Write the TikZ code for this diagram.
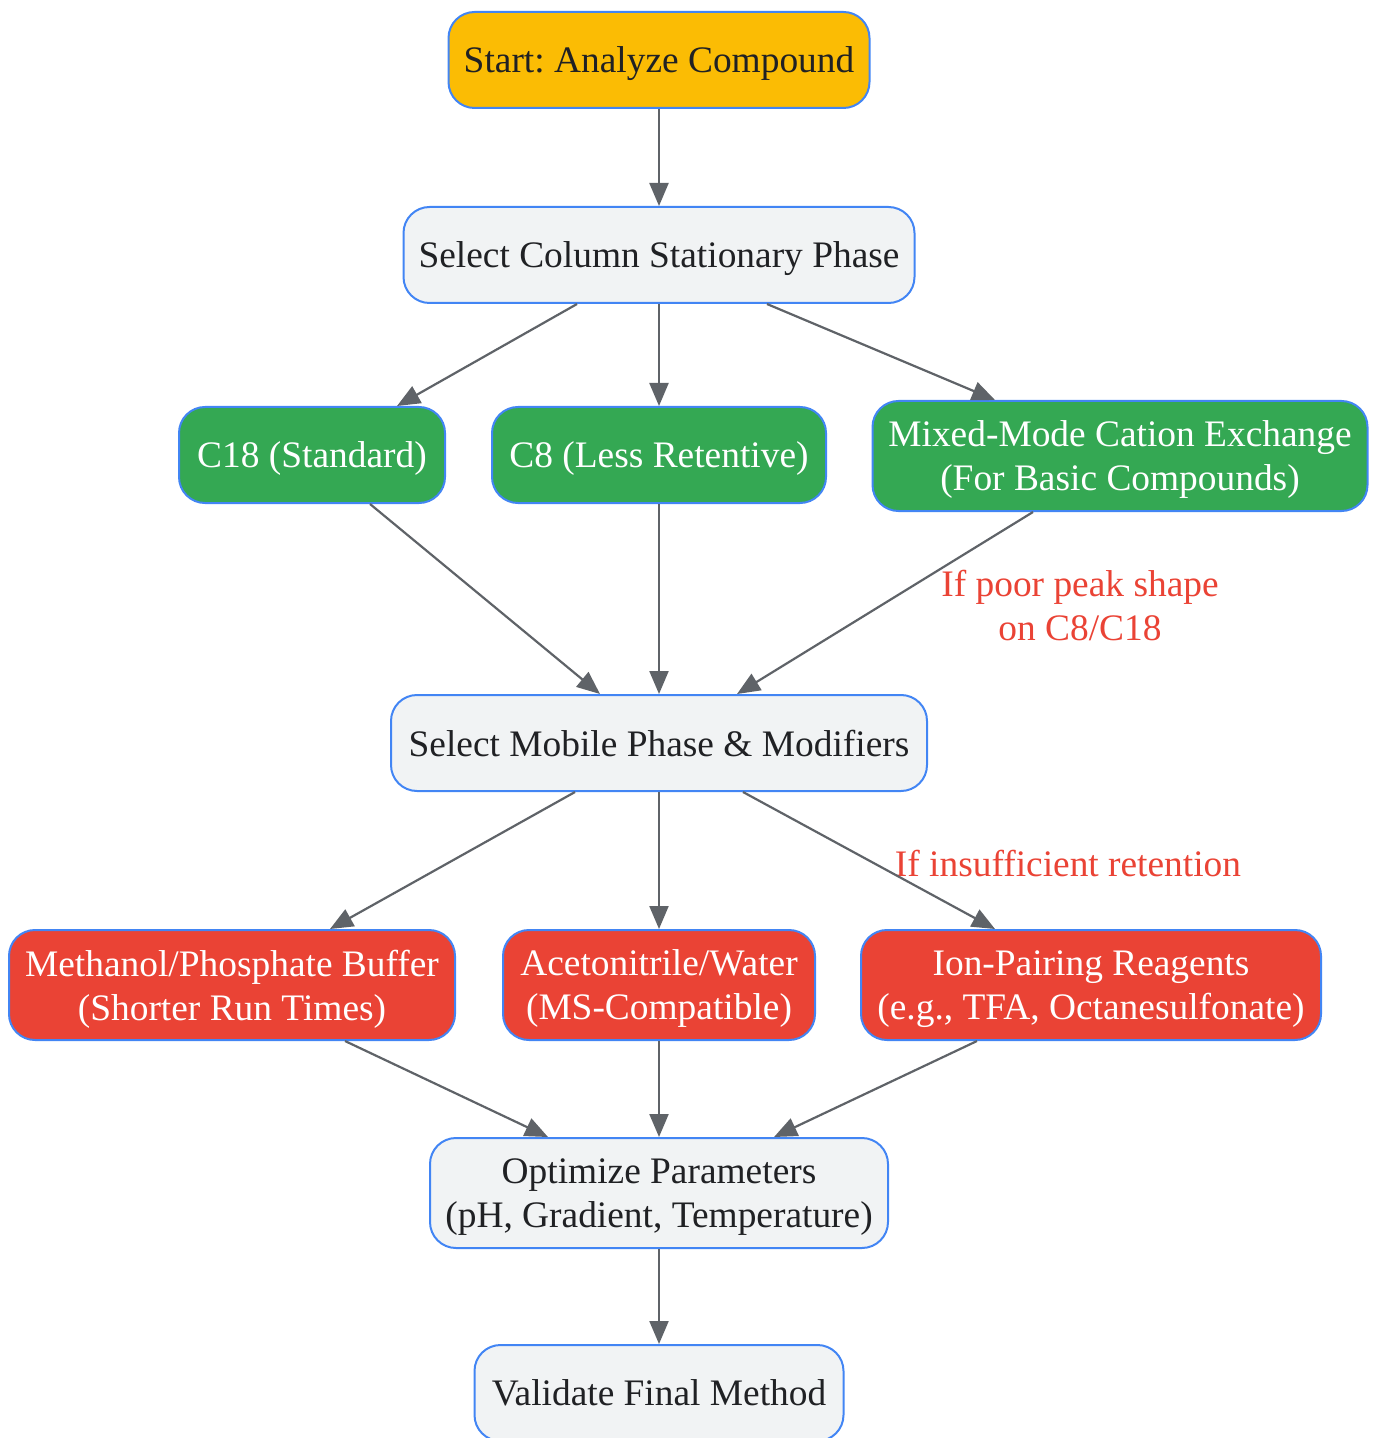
\documentclass[tikz,border=0pt]{standalone}
\usepackage{fontspec}
\setmainfont{Liberation Serif}
\frenchspacing
\usepackage{tikz}
\usetikzlibrary{arrows.meta}
\definecolor{gyellow}{HTML}{FBBC04}
\definecolor{ggreen}{HTML}{34A853}
\definecolor{gred}{HTML}{EA4335}
\definecolor{ggray}{HTML}{F1F3F4}
\definecolor{gblue}{HTML}{4285F4}
\definecolor{gtext}{HTML}{202124}
\definecolor{gline}{HTML}{5F6368}
\tikzset{
  box/.style={draw=gblue,line width=1pt,rounded corners=13pt,fill=ggray,text=gtext,
    align=center,inner sep=0pt,minimum height=48pt,text depth=0pt,font=\fontsize{18.7}{22}\selectfont},
  twoline/.style={minimum height=55pt},
  startbox/.style={box,fill=gyellow},
  colbox/.style={box,fill=ggreen,text=white},
  mobbox/.style={box,fill=gred,text=white},
  flow/.style={draw=gline,line width=1.1pt,-{Triangle[length=11.5pt,width=9.5pt]}},
  note/.style={text=gred,align=center,font=\fontsize{18.7}{22}\selectfont}
}
\begin{document}
\begin{tikzpicture}[x=0.5pt,y=-0.5pt]
  \useasboundingbox (0,0) rectangle (1372,1438);
  % steps
  \node[startbox,minimum width=210.5pt] (start) at (659,60) {Start: Analyze Compound};
  \node[box,minimum width=255.5pt] (sel) at (659,255) {Select Column Stationary Phase};
  \node[colbox,minimum width=133pt] (c18) at (312,455) {C18 (Standard)};
  \node[colbox,minimum width=167pt] (c8) at (659,455) {C8 (Less Retentive)};
  \node[colbox,twoline,minimum width=247.5pt] (mix) at (1120,456) {Mixed-Mode Cation Exchange\\(For Basic Compounds)};
  \node[box,minimum width=268pt] (mob) at (659,743) {Select Mobile Phase \& Modifiers};
  \node[mobbox,twoline,minimum width=223pt] (meth) at (232,985) {Methanol/Phosphate Buffer\\(Shorter Run Times)};
  \node[mobbox,twoline,minimum width=156pt] (acn) at (659,985) {Acetonitrile/Water\\(MS-Compatible)};
  \node[mobbox,twoline,minimum width=230pt] (ion) at (1091,985) {Ion-Pairing Reagents\\(e.g., TFA, Octanesulfonate)};
  \node[box,twoline,minimum width=229pt] (opt) at (659,1193) {Optimize Parameters\\(pH, Gradient, Temperature)};
  \node[box,minimum width=184.5pt] (val) at (659,1393) {Validate Final Method};
  % notes
  \node[note] (poor) at (1080,606) {If poor peak shape\\on C8/C18};
  \node[note] (ret) at (1068,864) {If insufficient retention};
  % connectors
  \draw[flow] (start.south) -- (sel.north);
  \draw[flow] ([xshift=-41pt]sel.south) -- ([xshift=42.5pt]c18.north);
  \draw[flow] (sel.south) -- (c8.north);
  \draw[flow] ([xshift=54pt]sel.south) -- ([xshift=-62.5pt]mix.north);
  \draw[flow] ([xshift=29pt]c18.south) -- ([xshift=-29.5pt]mob.north);
  \draw[flow] (c8.south) -- (mob.north);
  \draw[flow] ([xshift=-43.5pt]mix.south) -- ([xshift=39pt]mob.north);
  \draw[flow] ([xshift=-42pt]mob.south) -- ([xshift=49pt]meth.north);
  \draw[flow] (mob.south) -- (acn.north);
  \draw[flow] ([xshift=42pt]mob.south) -- ([xshift=-48pt]ion.north);
  \draw[flow] ([xshift=56.5pt]meth.south) -- ([xshift=-55.5pt]opt.north);
  \draw[flow] (acn.south) -- (opt.north);
  \draw[flow] ([xshift=-57pt]ion.south) -- ([xshift=57.5pt]opt.north);
  \draw[flow] (opt.south) -- (val.north);
\end{tikzpicture}
\end{document}
